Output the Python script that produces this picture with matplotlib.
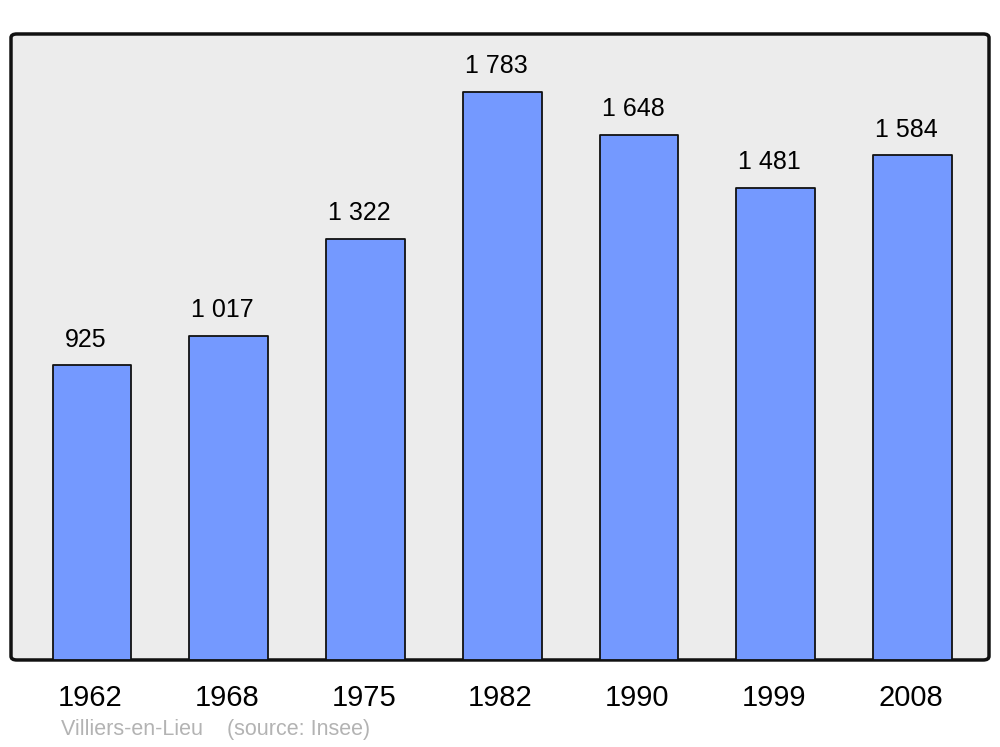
import matplotlib.pyplot as plt
from matplotlib.patches import FancyBboxPatch

plt.rcParams['font.family'] = ['Liberation Sans', 'DejaVu Sans']

years = ['1962', '1968', '1975', '1982', '1990', '1999', '2008']
population = [925, 1017, 1322, 1783, 1648, 1481, 1584]
labels = ['925', '1 017', '1 322', '1 783', '1 648', '1 481', '1 584']

fig = plt.figure(figsize=(10, 7.47), dpi=100)
ax = fig.add_axes([0.011, 0.1165, 0.978, 0.838])
ax.set_facecolor('none')

# rounded grey frame
frame = FancyBboxPatch((0, 0), 1, 1, boxstyle='round,pad=0,rounding_size=0.006',
                       transform=ax.transAxes, facecolor='#ececec',
                       edgecolor='#111111', linewidth=2.5, zorder=0, clip_on=False)
ax.add_patch(frame)

x = range(len(years))
bars = ax.bar(x, population, width=0.575, color='#7499ff', edgecolor='#111111',
              linewidth=1.3, zorder=2)
for b in bars:
    b.set_joinstyle('round')

for xi, v, lab in zip(x, population, labels):
    ax.annotate(lab, (xi, v), xytext=(-4.3, 13.5), textcoords='offset points',
                ha='center', va='baseline', fontsize=18)

ax.set_xlim(-0.592, 6.56)
ax.set_ylim(0, 1965)
ax.set_xticks([xi - 0.012 for xi in x])
ax.set_xticklabels(years, fontsize=21)
ax.set_yticks([])
ax.tick_params(axis='x', length=0, pad=17)
for s in ax.spines.values():
    s.set_visible(False)

fig.text(0.061, 1 - 730 / 747, 'Villiers-en-Lieu    (source: Insee)',
         color='#b3b3b3', fontsize=15.5, va='center', ha='left')

fig.savefig('out.png', dpi=100)
